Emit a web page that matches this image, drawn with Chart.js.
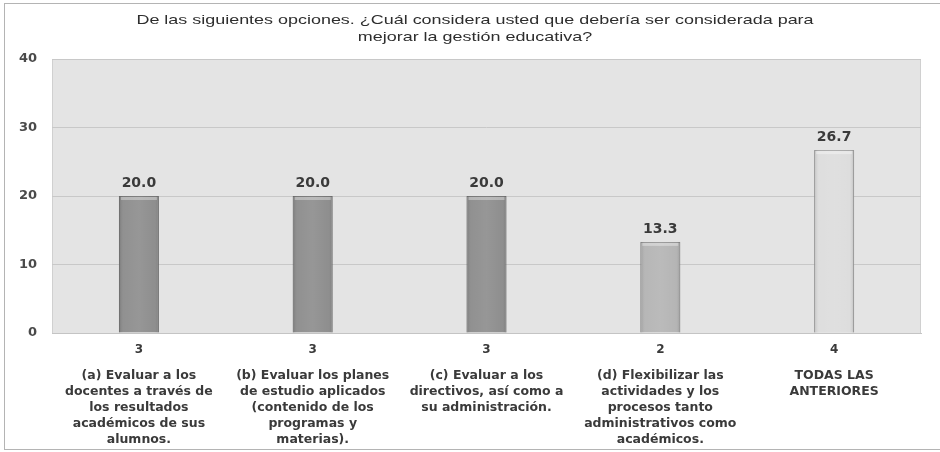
<!DOCTYPE html>
<html>
<head>
<meta charset="utf-8">
<script src="https://cdn.jsdelivr.net/npm/chart.js@4.4.1/dist/chart.umd.min.js"></script>
<style>
  html, body { margin: 0; padding: 0; background: #ffffff; }
  #wrap { position: relative; width: 940px; height: 452px; overflow: hidden; }
  #frame { position: absolute; left: 4px; top: 3px; width: 960px; height: 447px;
           border: 1px solid #b4b4b4; box-sizing: border-box; pointer-events: none; }
  canvas { position: absolute; left: 0; top: 0; }
</style>
</head>
<body>
<div id="wrap">
  <canvas id="c" width="940" height="452"></canvas>
  <div id="frame"></div>
</div>
<script>
// Survey answers: percentage of respondents and number of responses per option
const titleLines = [
  'De las siguientes opciones. ¿Cuál considera usted que debería ser considerada para',
  'mejorar la gestión educativa?'
];
const counts = ['3', '3', '3', '2', '4'];
const optionLabels = [
  ['(a) Evaluar a los', 'docentes a través de', 'los resultados', 'académicos de sus', 'alumnos.'],
  ['(b) Evaluar los planes', 'de estudio aplicados', '(contenido de los', 'programas y', 'materias).'],
  ['(c) Evaluar a los', 'directivos, así como a', 'su administración.'],
  ['(d) Flexibilizar las', 'actividades y los', 'procesos tanto', 'administrativos como', 'académicos.'],
  ['TODAS LAS', 'ANTERIORES']
];
const percentages = [20.0, 20.0, 20.0, 13.3, 26.7];
const yTicks = [0, 10, 20, 30, 40];

const barFill = ['#8b8b8b', '#8b8b8b', '#8b8b8b', '#b3b3b3', '#dcdcdc'];
const barEdge = ['#727272', '#727272', '#727272', '#8f8f8f', '#a6a6a6'];

const labelFont = "'DejaVu Sans', 'Open Sans', sans-serif";

// Wide, light two-line heading centred over the chart
const wideTitle = {
  id: 'wideTitle',
  afterDraw(chart) {
    const { ctx } = chart;
    ctx.save();
    ctx.font = "13px 'Liberation Sans', Arial, sans-serif";
    ctx.fillStyle = '#2e2e2e';
    ctx.textAlign = 'center';
    ctx.textBaseline = 'middle';
    const cx = 475;
    [20, 37].forEach((y, i) => {
      ctx.save();
      ctx.translate(cx, y);
      ctx.scale(1.38, 1);
      ctx.fillText(titleLines[i], 0, 0);
      ctx.restore();
    });
    ctx.restore();
  }
};

// Grey plot background behind the bars
const plotBackground = {
  id: 'plotBackground',
  beforeDraw(chart) {
    const { ctx, chartArea: a } = chart;
    ctx.save();
    ctx.fillStyle = '#e4e4e4';
    ctx.fillRect(a.left, a.top, a.right - a.left, a.bottom - a.top);
    ctx.strokeStyle = '#d0d0d0';
    ctx.lineWidth = 1;
    ctx.strokeRect(a.left + 0.5, a.top + 0.5, a.right - a.left - 1, a.bottom - a.top);
    ctx.restore();
  }
};

// Shading and light cap on each bar, plus the value printed above it
const barDecor = {
  id: 'barDecor',
  afterDatasetsDraw(chart) {
    const { ctx } = chart;
    const meta = chart.getDatasetMeta(0);
    ctx.save();
    meta.data.forEach((bar, i) => {
      const w = bar.width;
      const left = bar.x - w / 2;
      const g = ctx.createLinearGradient(left, 0, left + w, 0);
      g.addColorStop(0, 'rgba(0,0,0,0.14)');
      g.addColorStop(0.12, 'rgba(255,255,255,0.05)');
      g.addColorStop(0.5, 'rgba(255,255,255,0.10)');
      g.addColorStop(0.88, 'rgba(255,255,255,0.03)');
      g.addColorStop(1, 'rgba(0,0,0,0.14)');
      ctx.fillStyle = g;
      ctx.fillRect(left, bar.y, w, bar.base - bar.y);
      ctx.fillStyle = 'rgba(255,255,255,0.35)';
      ctx.fillRect(left + 2, bar.y + 1, w - 4, 3);

      ctx.fillStyle = '#3a3a3a';
      ctx.font = "bold 14px " + labelFont;
      ctx.textAlign = 'center';
      ctx.textBaseline = 'middle';
      ctx.fillText(percentages[i].toFixed(1), bar.x, bar.y - 13);
    });
    ctx.restore();
  }
};

new Chart(document.getElementById('c'), {
  type: 'bar',
  data: {
    labels: counts,
    datasets: [{
      data: percentages,
      backgroundColor: barFill,
      borderColor: barEdge,
      borderWidth: 1,
      barPercentage: 0.46,
      categoryPercentage: 0.5
    }]
  },
  plugins: [plotBackground, barDecor, wideTitle],
  options: {
    responsive: false,
    animation: false,
    layout: { padding: { left: 0, right: 19, top: 59, bottom: 0 } },
    plugins: {
      legend: { display: false },
      tooltip: { enabled: false },
      title: { display: false }
    },
    scales: {
      y: {
        min: 0,
        max: 40,
        afterBuildTicks(scale) { scale.ticks = yTicks.map(v => ({ value: v })); },
        afterFit(scale) { scale.width = 52; },
        border: { display: false },
        grid: { color: '#c8c8c8', lineWidth: 1, drawTicks: false },
        ticks: {
          padding: 15,
          color: '#4a4a4a',
          font: { family: labelFont, size: 13, weight: 'bold' }
        }
      },
      x: {
        position: 'bottom',
        afterFit(scale) { scale.height = 26; },
        border: { display: true, color: '#c4c4c4' },
        grid: { display: false, drawTicks: false },
        ticks: {
          padding: 10,
          maxRotation: 0,
          autoSkip: false,
          color: '#3a3a3a',
          font: { family: labelFont, size: 12, weight: 'bold' }
        }
      },
      x2: {
        type: 'category',
        position: 'bottom',
        labels: optionLabels,
        offset: true,
        afterFit(scale) { scale.height = 93; },
        border: { display: false },
        grid: { display: false, drawTicks: false },
        ticks: {
          padding: 9,
          maxRotation: 0,
          autoSkip: false,
          color: '#3a3a3a',
          font: { family: labelFont, size: 12.5, weight: 'bold', lineHeight: 1.28 }
        }
      }
    }
  }
});
</script>
</body>
</html>
